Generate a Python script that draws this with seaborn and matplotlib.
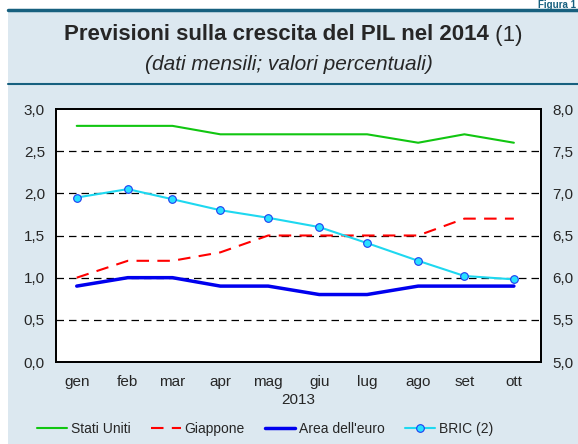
import matplotlib
matplotlib.use("Agg")
import matplotlib.pyplot as plt
import matplotlib.dates as mdates
import numpy as np
import pandas as pd
import seaborn as sns

# data (monthly forecasts for 2014 GDP growth, collected during 2013)
months = ["gen", "feb", "mar", "apr", "mag", "giu", "lug", "ago", "set", "ott"]
obs_days = ["2013-01-14", "2013-02-15", "2013-03-15", "2013-04-14", "2013-05-14",
            "2013-06-15", "2013-07-15", "2013-08-16", "2013-09-14", "2013-10-15"]
stati_uniti = [2.8, 2.8, 2.8, 2.7, 2.7, 2.7, 2.7, 2.6, 2.7, 2.6]
giappone = [1.0, 1.2, 1.2, 1.3, 1.5, 1.5, 1.5, 1.5, 1.7, 1.7]
area_euro = [0.9, 1.0, 1.0, 0.9, 0.9, 0.8, 0.8, 0.9, 0.9, 0.9]
bric = [6.95, 7.05, 6.93, 6.80, 6.71, 6.60, 6.41, 6.20, 6.02, 5.98]

df = pd.DataFrame({
    "data": pd.to_datetime(obs_days),
    "Stati Uniti": stati_uniti,
    "Giappone": giappone,
    "Area dell'euro": area_euro,
    "BRIC (2)": bric,
})

sns.set_style("white")
plt.rcParams["font.family"] = ["Liberation Sans", "DejaVu Sans"]

BG = "#dce8f0"
TEAL = "#17607f"

fig = plt.figure(figsize=(5.78, 4.44), dpi=100)
fig.patch.set_facecolor("white")

# header / background panels
fig.patches.append(plt.Rectangle((8 / 578, 0), 1, 1 - 11 / 444, transform=fig.transFigure,
                                 facecolor=BG, edgecolor="none", zorder=-10))
fig.add_artist(plt.Line2D([8 / 578, 1], [1 - 10 / 444] * 2, color=TEAL, lw=2.5))
fig.add_artist(plt.Line2D([8 / 578, 1], [1 - 84 / 444] * 2, color=TEAL, lw=1.5))
fig.text(0.997, 1 - 0.5 / 444, "Figura 1", color=TEAL, fontsize=7, fontweight="bold",
         ha="right", va="top")

# title: bold part + regular "(1)", centred together
renderer = fig.canvas.get_renderer()
t1 = fig.text(0, 1 - 35 / 444, "Previsioni sulla crescita del PIL nel 2014",
              fontsize=16, fontweight="bold", ha="left", va="center")
t2 = fig.text(0, 1 - 35 / 444, " (1)", fontsize=16, ha="left", va="center")
w1 = t1.get_window_extent(renderer).width / fig.bbox.width
w2 = t2.get_window_extent(renderer).width / fig.bbox.width
x0 = 0.5 + 4 / 578 - (w1 + w2) / 2
t1.set_x(x0)
t2.set_x(x0 + w1)
fig.text(0.5, 1 - 64 / 444, "(dati mensili; valori percentuali)", fontsize=15,
         style="italic", ha="center", va="center")

ax = fig.add_axes([56 / 578, 1 - 362 / 444, (541 - 56) / 578, (362 - 109) / 444])
ax.set_facecolor("white")

sns.lineplot(data=df, x="data", y="Stati Uniti", color="#11c611", lw=1.5, ax=ax,
             label="Stati Uniti", legend=False)
sns.lineplot(data=df, x="data", y="Giappone", color="#ff0000", lw=1.5, ax=ax,
             label="Giappone", legend=False)
ax.lines[-1].set_dashes([6, 4])
sns.lineplot(data=df, x="data", y="Area dell'euro", color="#0000ee", lw=2.5, ax=ax,
             label="Area dell'euro", legend=False)

ax2 = ax.twinx()
sns.lineplot(data=df, x="data", y="BRIC (2)", color="#1ed8f0", lw=1.5, ax=ax2,
             marker="o", markersize=5.5, markerfacecolor="#28e0ff", markeredgecolor="#1c3cf0",
             markeredgewidth=0.8, label="BRIC (2)", legend=False)

ax.set_ylim(0, 3)
ax2.set_ylim(5, 8)
ax.set_xlim(pd.Timestamp("2013-01-01"), pd.Timestamp("2013-11-01"))
ax.set_yticks(np.arange(0, 3.01, 0.5))
ax2.set_yticks(np.arange(5, 8.01, 0.5))
ax.set_yticklabels([f"{v:.1f}".replace(".", ",") for v in np.arange(0, 3.01, 0.5)])
ax2.set_yticklabels([f"{v:.1f}".replace(".", ",") for v in np.arange(5, 8.01, 0.5)])

for v in np.arange(0.5, 2.51, 0.5):
    ax.axhline(v, color="black", lw=0.9, ls=(0, (6, 4)), zorder=0)

ax.xaxis.set_major_locator(mdates.MonthLocator(bymonth=range(2, 11)))
ax.xaxis.set_major_formatter(plt.NullFormatter())
ax.set_xticks(df["data"], minor=True)
ax.set_xticklabels(months, minor=True)
ax.tick_params(axis="x", which="major", direction="in", length=5, width=1, color="black")
ax.tick_params(axis="x", which="minor", length=0, labelsize=11, pad=9)
ax.tick_params(axis="y", length=0, labelsize=11, pad=8)
ax2.tick_params(axis="y", length=0, labelsize=11, pad=8)

ax.set_xlabel("2013", fontsize=11, labelpad=3)
ax.set_ylabel("")
ax2.set_ylabel("")
for a in (ax, ax2):
    for s in a.spines.values():
        s.set_visible(True)
        s.set_color("black")
        s.set_linewidth(1.3)

h1, l1 = ax.get_legend_handles_labels()
h2, l2 = ax2.get_legend_handles_labels()
fig.legend(h1 + h2, l1 + l2, loc="center", bbox_to_anchor=(265 / 578, 1 - 429 / 444), ncol=4,
           frameon=False, fontsize=10, handlelength=2.15, handletextpad=0.3, columnspacing=1.45)

fig.savefig("out.png", dpi=100, facecolor=fig.get_facecolor())
